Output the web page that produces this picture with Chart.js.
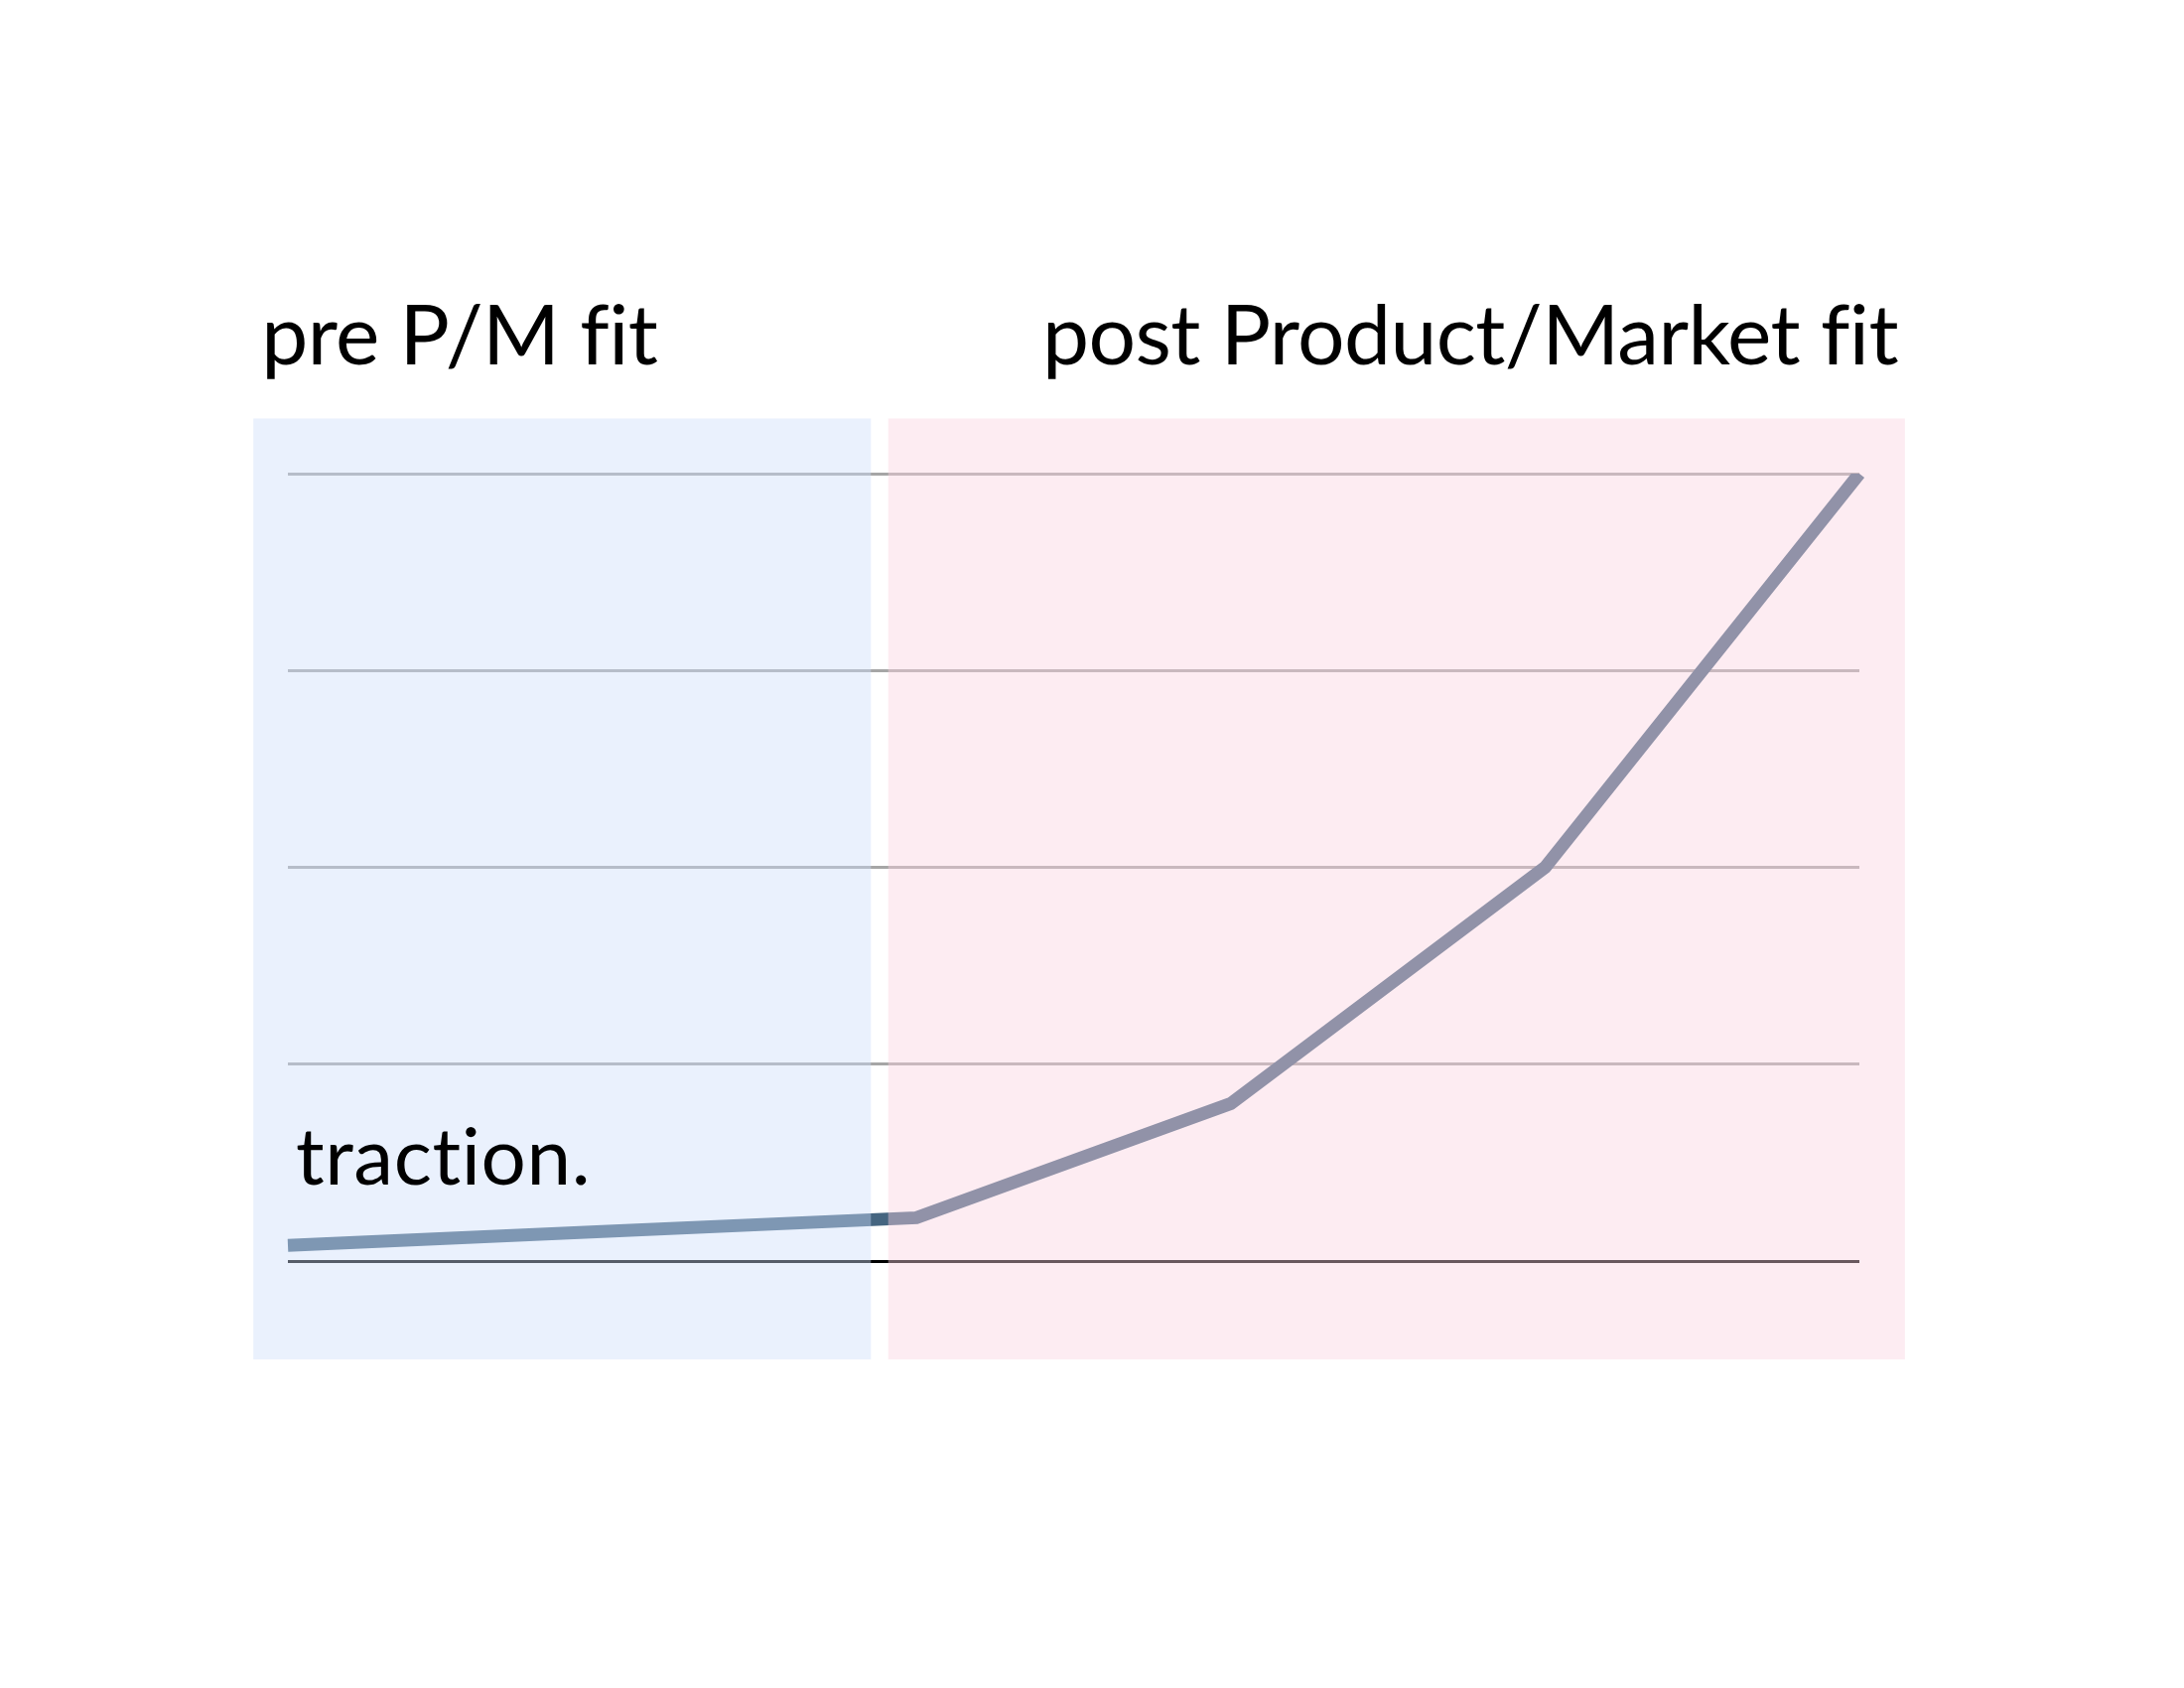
<!DOCTYPE html>
<html>
<head>
<meta charset="utf-8">
<script src="https://cdn.jsdelivr.net/npm/chart.js@4"></script>
<style>
  body { margin: 0; background: #ffffff; }
  #wrap { width: 2200px; height: 1700px; position: relative; }
</style>
</head>
<body>
<div id="wrap"><canvas id="myChart"></canvas></div>
<script>
// stages along the x axis (no tick labels shown on the slide)
const stages = ['s1', 's2', 's3', 's4', 's5', 's6'];
const tractionValues = [8, 15, 22, 80, 200, 400];
const yTicks = [0, 100, 200, 300, 400];

const phaseNames = ['pre P/M fit', 'post Product/Market fit'];
const curveLabel = 'traction.';

// shaded phases, in axis units (x = stage index, y = value)
const phaseFrom = [-0.11, 1.91];
const phaseTo = [1.855, 5.145];
const phaseColors = ['rgba(206,221,251,0.42)', 'rgba(250,210,223,0.42)'];

// the two tinted panels are laid over the plot, then the words on top
const phasePlugin = {
    id: 'phases',
    afterDatasetsDraw(chart) {
        const ctx = chart.ctx;
        const x = chart.scales.x;
        const y = chart.scales.y;
        const top = y.getPixelForValue(428);
        const bottom = y.getPixelForValue(-50);

        ctx.save();
        for (let i = 0; i < phaseNames.length; i++) {
            const left = x.getPixelForValue(phaseFrom[i]);
            const right = x.getPixelForValue(phaseTo[i]);
            ctx.fillStyle = phaseColors[i];
            ctx.fillRect(left, top, right - left, bottom - top);
        }

        ctx.fillStyle = '#000000';
        ctx.textBaseline = 'alphabetic';
        ctx.font = '84px Lato';
        ctx.letterSpacing = '-0.6px'; // non-zero spacing also stops the fi / ti ligatures
        ctx.textAlign = 'left';
        ctx.fillText(phaseNames[0], x.getPixelForValue(phaseFrom[0]) + 8, top - 54);
        ctx.textAlign = 'right';
        ctx.fillText(phaseNames[1], x.getPixelForValue(phaseTo[1]) - 7, top - 54);

        ctx.font = '80px Lato';
        ctx.letterSpacing = '0.6px';
        ctx.textAlign = 'left';
        ctx.fillText(curveLabel, chart.chartArea.left + 8, y.getPixelForValue(39));
        ctx.restore();
    }
};

function renderChart() {

    var ctx = document.getElementById('myChart').getContext('2d');

    var myChart = new Chart(ctx, {

        type: 'line',

        data: {
            labels: stages,
            datasets: [{
                label: curveLabel,
                data: tractionValues,
                borderColor: '#456580',
                borderWidth: 13,
                pointRadius: 0,
                tension: 0
            }]
        },

        options: {
            responsive: true,
            maintainAspectRatio: false,
            devicePixelRatio: 1,
            animation: false,
            layout: {
                padding: { left: 290, right: 327, top: 477, bottom: 430 }
            },
            plugins: {
                legend: { display: false },
                tooltip: { enabled: false }
            },
            scales: {
                x: {
                    display: false
                },
                y: {
                    min: yTicks[0],
                    max: yTicks[yTicks.length - 1],
                    afterBuildTicks: function(scale) {
                        scale.ticks = yTicks.map(v => ({ value: v }));
                    },
                    ticks: { display: false },
                    border: { display: false },
                    grid: {
                        drawTicks: false,
                        lineWidth: 3,
                        color: function(c) {
                            return c.tick && c.tick.value === 0 ? '#000000' : '#a6a6a6';
                        }
                    }
                }
            }
        },

        plugins: [phasePlugin]
    });
}

renderChart();
</script>
</body>
</html>
